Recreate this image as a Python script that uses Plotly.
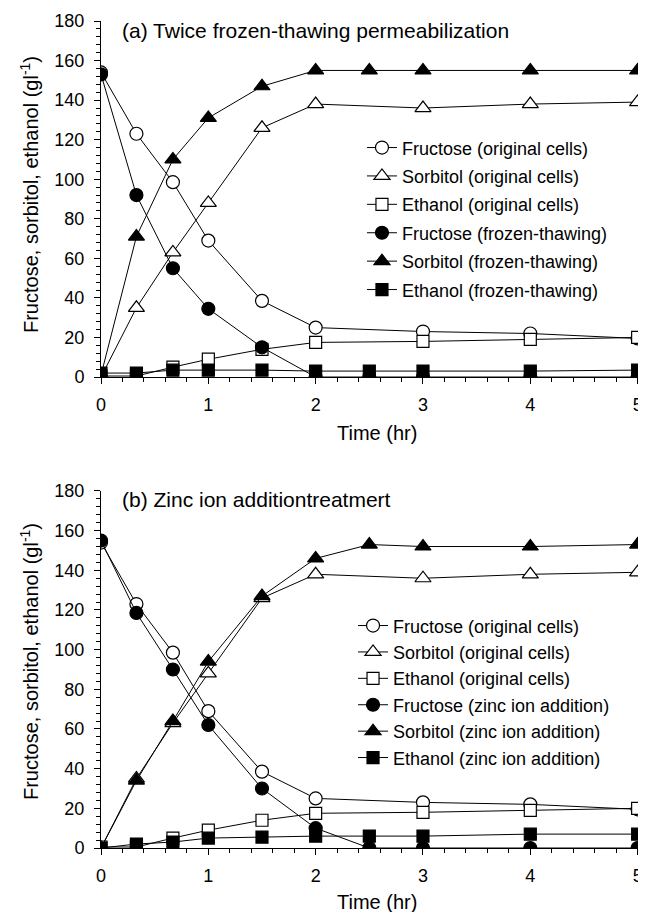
import plotly.graph_objects as go

# ---------------- data ----------------
T_ORIG = [0, 0.33, 0.67, 1, 1.5, 2, 3, 4, 5]
T_TREAT = [0, 0.33, 0.67, 1, 1.5, 2, 2.5, 3, 4, 5]

# original cells (same in both panels)
FRU_ORIG = [154, 123, 98.5, 69, 38.5, 25, 23, 22, 19.5]
SOR_ORIG = [0, 35, 63, 88, 126, 138, 136, 138, 139]
ETH_ORIG = [0.5, 0.5, 5, 9, 14, 17.5, 18, 19, 20]

# (a) twice frozen-thawing
FRU_FT = [153, 92, 55, 34.5, 15, 0, 0, 0, 0, 0]
SOR_FT = [1, 71, 110, 131, 147, 155, 155, 155, 155, 155]
ETH_FT = [2, 2, 3.5, 3.5, 3.5, 3, 3, 3, 3, 3.5]

# (b) zinc ion addition
FRU_ZN = [155, 118.5, 90, 62, 30, 10, 0, 0, 0, 0]
SOR_ZN = [0, 34, 64, 94, 127, 146, 153, 152, 152, 153]
ETH_ZN = [0, 2, 3, 5, 5.5, 6, 6, 6, 7, 7]

NAMES_ORIG = ["Fructose (original cells)", "Sorbitol (original cells)", "Ethanol (original cells)"]
NAMES_FT = ["Fructose (frozen-thawing)", "Sorbitol (frozen-thawing)", "Ethanol (frozen-thawing)"]
NAMES_ZN = ["Fructose (zinc ion addition)", "Sorbitol (zinc ion addition)", "Ethanol (zinc ion addition)"]

TITLE_A = "(a) Twice frozen-thawing permeabilization"
TITLE_B = "(b) Zinc ion additiontreatmert"
X_TITLE = "Time (hr)"
Y_TITLE = "Fructose, sorbitol, ethanol (gl<sup>-1</sup>)"

FONT = "Liberation Sans, Arial, sans-serif"
SYMBOLS = ["circle", "triangle-up", "square"]
SIZES = [13, 14, 12]

fig = go.Figure()


def add_series(x, y, name, idx, filled, xa, ya, legend, group):
    fig.add_trace(go.Scatter(
        x=x, y=y, mode="lines+markers", name=name,
        line=dict(color="black", width=1),
        marker=dict(symbol=SYMBOLS[idx], size=SIZES[idx],
                    color="black" if filled else "white",
                    line=dict(color="black", width=1.2)),
        xaxis=xa, yaxis=ya, legend=legend, legendgroup=group,
    ))


orig = [FRU_ORIG, SOR_ORIG, ETH_ORIG]
ft = [FRU_FT, SOR_FT, ETH_FT]
zn = [FRU_ZN, SOR_ZN, ETH_ZN]

for i in range(3):
    add_series(T_ORIG, orig[i], NAMES_ORIG[i], i, False, "x", "y", "legend", "a%d" % i)
for i in range(3):
    add_series(T_TREAT, ft[i], NAMES_FT[i], i, True, "x", "y", "legend", "a%d" % (i + 3))
for i in range(3):
    add_series(T_ORIG, orig[i], NAMES_ORIG[i], i, False, "x2", "y2", "legend2", "b%d" % i)
for i in range(3):
    add_series(T_TREAT, zn[i], NAMES_ZN[i], i, True, "x2", "y2", "legend2", "b%d" % (i + 3))

tickfont = dict(family=FONT, size=18, color="black")


def xaxis(anchor):
    return dict(domain=[0, 1], anchor=anchor, range=[0, 5.05], showline=True,
                linecolor="black", linewidth=1, ticks="outside", ticklen=6,
                tickwidth=1, tickcolor="black", dtick=1, tick0=0,
                minor=dict(dtick=0.2, ticks="outside", ticklen=4, tickcolor="black", tickwidth=1),
                showgrid=False, zeroline=False, tickfont=tickfont, ticklabelstandoff=5)


def yaxis(anchor, dom):
    return dict(domain=dom, anchor=anchor, range=[0, 180], showline=True,
                linecolor="black", linewidth=1, ticks="outside", ticklen=6,
                tickwidth=1, tickcolor="black", dtick=20, tick0=0,
                minor=dict(dtick=4, ticks="outside", ticklen=4, tickcolor="black", tickwidth=1),
                showgrid=False, zeroline=False, tickfont=tickfont, ticklabelstandoff=6)


legend_style = dict(font=dict(family=FONT, size=18, color="black"), bgcolor="rgba(0,0,0,0)",
                    xanchor="left", yanchor="top", traceorder="grouped")

ann_font = dict(family=FONT, size=20, color="black")
title_font = dict(family=FONT, size=21, color="black")
annotations = [
    dict(text=TITLE_A, x=0.035, y=0.989, xref="paper", yref="paper", xanchor="left",
         yanchor="middle", showarrow=False, font=title_font),
    dict(text=TITLE_B, x=0.035, y=0.4208, xref="paper", yref="paper", xanchor="left",
         yanchor="middle", showarrow=False, font=title_font),
    dict(text=X_TITLE, x=0.509, y=0.5018, xref="paper", yref="paper", xanchor="center",
         yanchor="middle", showarrow=False, font=ann_font),
    dict(text=X_TITLE, x=0.509, y=-0.0653, xref="paper", yref="paper", xanchor="center",
         yanchor="middle", showarrow=False, font=ann_font),
    dict(text=Y_TITLE, x=-0.1328, y=0.7896, xref="paper", yref="paper", xanchor="center",
         yanchor="middle", textangle=-90, showarrow=False, font=ann_font),
    dict(text=Y_TITLE, x=-0.1328, y=0.2249, xref="paper", yref="paper", xanchor="center",
         yanchor="middle", textangle=-90, showarrow=False, font=ann_font),
]

# page body has an 8px margin, so the figure is 8px smaller on each side
fig.update_layout(
    width=638, height=904, autosize=False,
    margin=dict(l=93, r=3, t=13, b=64),
    paper_bgcolor="white", plot_bgcolor="white",
    font=dict(family=FONT, size=18, color="black"),
    xaxis=xaxis("y"), yaxis=yaxis("x", [0.5695, 1]),
    xaxis2=xaxis("y2"), yaxis2=yaxis("x2", [0, 0.4317]),
    legend=dict(x=0.4815, y=0.869, tracegroupgap=2, **legend_style),
    legend2=dict(x=0.465, y=0.291, tracegroupgap=0, **legend_style),
    annotations=annotations,
    showlegend=True,
)

fig.write_html("out.html")
